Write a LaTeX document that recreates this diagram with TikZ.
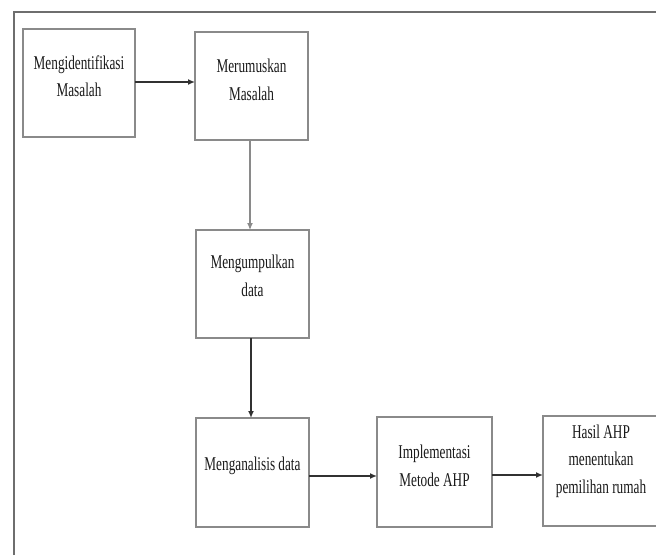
\documentclass[tikz,border=0pt]{standalone}
\usepackage{fontspec}
\setmainfont{Liberation Serif}[FakeStretch=0.68]
\usetikzlibrary{arrows.meta}
\definecolor{framegray}{HTML}{6E6E6E}
\definecolor{boxgray}{HTML}{8A8A8A}
\definecolor{inkgray}{HTML}{1A1A1A}
\tikzset{
  stepbox/.style={draw=boxgray, line width=1.2pt, fill=white, inner sep=0pt, outer sep=0pt},
  steptext/.style={align=center, text=inkgray, font=\fontsize{19.5}{27.5}\selectfont, inner sep=0pt},
  flow/.style={draw=inkgray!90, line width=1.4pt, -{Latex[length=7pt,width=6pt]}},
  flowlight/.style={draw=boxgray, line width=1.1pt, -{Latex[length=7pt,width=6pt]}},
}
\begin{document}
\begin{tikzpicture}[x=1pt,y=-1pt]
\useasboundingbox (0,0) rectangle (656,555);
\clip (0,0) rectangle (656,555);
% page frame: top and left edges only
\draw[framegray, line width=2.2pt] (14,555) -- (14,12) -- (660,12);

% process steps
\node[stepbox, minimum width=112pt, minimum height=108pt] (b1) at (79,83) {};
\node[stepbox, minimum width=113pt, minimum height=108pt] (b2) at (251.5,86) {};
\node[stepbox, minimum width=113pt, minimum height=108pt] (b3) at (252.5,284) {};
\node[stepbox, minimum width=113pt, minimum height=109pt] (b4) at (252.5,472.5) {};
\node[stepbox, minimum width=115pt, minimum height=110pt] (b5) at (434.5,472) {};
\node[stepbox, minimum width=116pt, minimum height=110pt] (b6) at (601,471) {};

\node[steptext] (t1) at ([yshift=7pt]b1.center) {Mengidentifikasi\\Masalah};
\node[steptext] (t2) at ([yshift=6pt]b2.center) {Merumuskan\\Masalah};
\node[steptext] (t3) at ([yshift=8pt]b3.center) {Mengumpulkan\\data};
\node[steptext] (t4) at ([yshift=7pt]b4.center) {Menganalisis data};
\node[steptext] (t5) at ([yshift=6pt]b5.center) {Implementasi\\Metode AHP};
\node[steptext] (t6) at ([yshift=10pt]b6.center) {Hasil AHP\\menentukan\\pemilihan rumah};

% connectors
\draw[flow] ([yshift=1pt]b1.east) -- ([yshift=1pt]b1.east -| b2.west);
\draw[flowlight] ([xshift=-1.5pt]b2.south) -- ([xshift=-1.5pt]b2.south |- b3.north);
\draw[flow] ([xshift=-1.5pt]b3.south) -- ([xshift=-1.5pt]b3.south |- b4.north);
\draw[flow] ([yshift=-3.5pt]b4.east) -- ([yshift=-3.5pt]b4.east -| b5.west);
\draw[flow] ([yshift=-3pt]b5.east) -- ([yshift=-3pt]b5.east -| b6.west);
\end{tikzpicture}
\end{document}
